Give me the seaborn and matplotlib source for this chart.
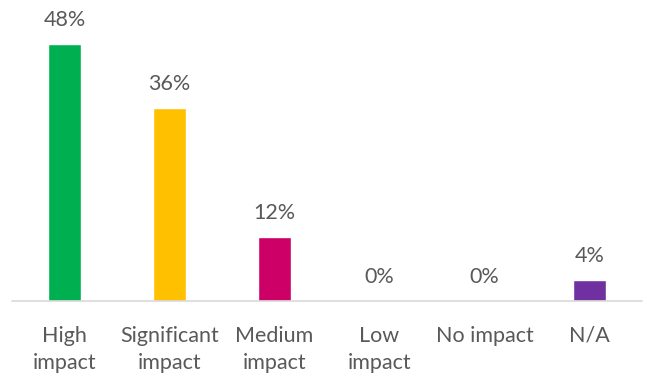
import matplotlib
matplotlib.use("Agg")
import matplotlib.pyplot as plt
import seaborn as sns
import pandas as pd

categories = ["High\nimpact", "Significant\nimpact", "Medium\nimpact", "Low\nimpact", "No impact", "N/A"]
values = [48, 36, 12, 0, 0, 4]
colors = ["#00B050", "#FFC000", "#CC0066", "#A5A5A5", "#5B9BD5", "#7030A0"]

sns.set_theme(style="white")
plt.rcParams["font.family"] = ["Lato", "DejaVu Sans"]

df = pd.DataFrame({"cat": categories, "val": values})
fig = plt.figure(figsize=(6.45, 3.78), dpi=100)
ax = fig.add_axes([12/645, 1 - 301/378, 630/645, 301/378])
sns.barplot(data=df, x="cat", y="val", hue="cat", palette=colors, width=0.315,
            legend=False, ax=ax, saturation=1)
ax.set_ylim(0, 301/5.36)
ax.set_xlim(-0.5, 5.5)
for i, v in enumerate(values):
    ax.annotate(f"{v}%", (i, v), xytext=(0, 18), textcoords="offset pixels",
                ha="center", va="baseline", fontsize=15.5, color="#595959")
ax.set_xlabel("")
ax.set_ylabel("")
ax.set_yticks([])
for s in ["left", "right", "top"]:
    ax.spines[s].set_visible(False)
ax.spines["bottom"].set_color("#D9D9D9")
ax.spines["bottom"].set_linewidth(1.2)
ax.tick_params(axis="x", length=0, pad=18, labelsize=15.5, labelcolor="#595959")
for lab in ax.get_xticklabels():
    lab.set_linespacing(1.42)
fig.savefig("out.png", dpi=100)
